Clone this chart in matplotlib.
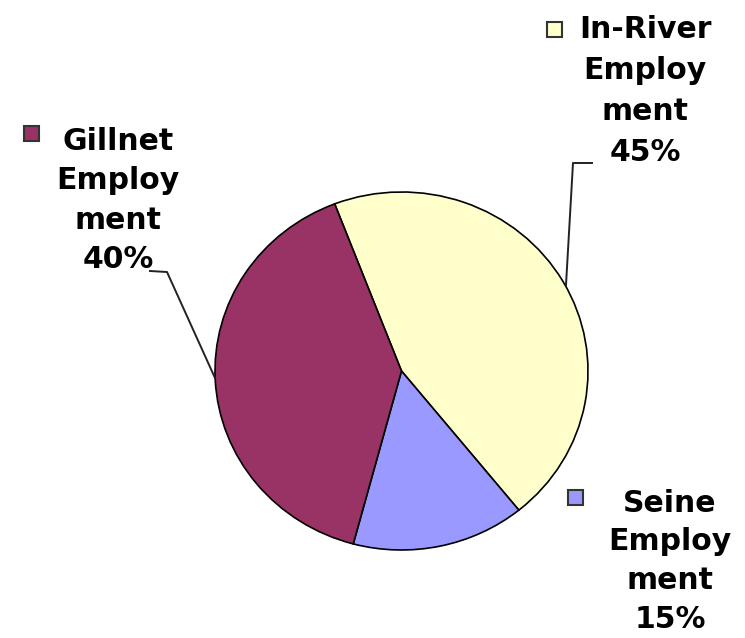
import matplotlib
matplotlib.use("Agg")
import matplotlib.pyplot as plt
from matplotlib.patches import Rectangle

# Employment share by fishery (percent)
categories = ["In-River", "Seine", "Gillnet"]
values = [45, 15, 40]
label_lines = [["In-River", "Employ", "ment"],
               ["Seine", "Employ", "ment"],
               ["Gillnet", "Employ", "ment"]]
colors = ["#FFFFCC", "#9999FF", "#993366"]

W, H = 745, 638
fig = plt.figure(figsize=(W / 100, H / 100), dpi=100)
fig.patch.set_facecolor("white")

# Pie axes placed in pixel terms (slightly wider than tall)
left, top, right, bottom = 215, 192, 588, 550
m = 0.03
pw, ph = right - left, bottom - top
ax = fig.add_axes([(left - pw * m / 2) / W, 1 - (bottom + ph * m / 2) / H,
                   pw * (1 + m) / W, ph * (1 + m) / H])
ax.pie(values, colors=colors, startangle=111, counterclock=False,
       radius=1.0, wedgeprops=dict(edgecolor="black", linewidth=1.2))
ax.set_aspect("auto")
ax.set_xlim(-1 - m, 1 + m)
ax.set_ylim(-1 - m, 1 + m)
ax.axis("off")

# Overlay in pixel coordinates for labels, keys and leader lines
ov = fig.add_axes([0, 0, 1, 1], facecolor="none")
ov.set_xlim(0, W)
ov.set_ylim(H, 0)
ov.axis("off")

total = sum(values)
# (text centre x, first baseline y, line pitch, key box x, key box y)
label_pos = {
    "In-River": (645, 38, 41, 547, 22),
    "Seine": (670, 512, 38.5, 568, 490),
    "Gillnet": (118, 150, 39.3, 24, 126),
}
for cat, val, lines, col in zip(categories, values, label_lines, colors):
    cx, by, pitch, kx, ky = label_pos[cat]
    text_lines = lines + [f"{round(100 * val / total)}%"]
    for i, t in enumerate(text_lines):
        ov.text(cx, by + i * pitch, t, ha="center", va="baseline",
                fontsize=21.5, fontweight="bold", family="DejaVu Sans",
                color="black")
    ov.add_patch(Rectangle((kx, ky), 15, 15, facecolor=col,
                           edgecolor="#333333", linewidth=1.5))

# Leader lines
ov.plot([592, 573, 566], [163, 163, 285], color="#222222", lw=1.4)
ov.plot([150, 167, 215], [271, 272, 378], color="#222222", lw=1.4)

fig.savefig("out.png", dpi=100, facecolor="white")
